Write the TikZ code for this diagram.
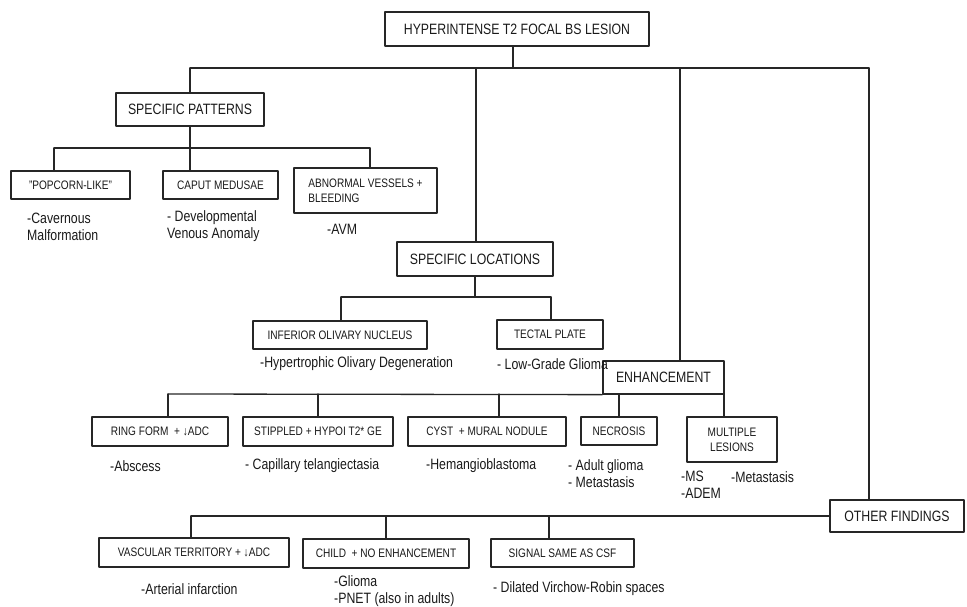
\documentclass[tikz,border=0pt]{standalone}
\usepackage{fontspec}
\setmainfont[FakeStretch=0.82]{Liberation Sans}
\begin{document}
\begin{tikzpicture}[x=1pt,y=-1pt,line join=round,line cap=round]
	\tikzset{box/.style={draw=black!85,line width=1.3pt,inner sep=0pt,text=black!90},
		sz/.style 2 args={minimum width=#1,minimum height=#2},
		bigbox/.style={box,font=\fontsize{15}{17}\selectfont},
		smallbox/.style={box,align=center,font=\fontsize{12.3}{15}\selectfont},
		note/.style={anchor=west,align=left,inner sep=0pt,text=black!90,font=\fontsize{15}{17}\selectfont},
		link/.style={draw=black!85,line width=1.3pt}}
	\useasboundingbox (0,0) rectangle (967,607);
	% boxes
	\node[bigbox,sz={264}{34}] (root) at (517,29) {HYPERINTENSE T2 FOCAL BS LESION};
	\node[bigbox,sz={148}{33}] (pat) at (190,109.5) {SPECIFIC PATTERNS};
	\node[smallbox,sz={119}{28}] (pop) at (70.5,185) {"POPCORN-LIKE"};
	\node[smallbox,sz={115}{28}] (cap) at (220.5,185) {CAPUT MEDUSAE};
	\node[smallbox,align=left,sz={143}{45}] (abn) at (365.5,190.5) {ABNORMAL VESSELS +\\BLEEDING};
	\node[bigbox,sz={156}{34}] (loc) at (475,259) {SPECIFIC LOCATIONS};
	\node[smallbox,sz={174}{28}] (ion) at (340,335) {INFERIOR OLIVARY NUCLEUS};
	\node[smallbox,sz={106}{29}] (tec) at (550,334.5) {TECTAL PLATE};
	\node[bigbox,sz={121}{33}] (enh) at (663.5,377.5) {ENHANCEMENT};
	\node[smallbox,sz={136}{29}] (ring) at (160,431.5) {RING FORM\ \ + ↓ADC};
	\node[smallbox,sz={150}{29}] (stp) at (318,431.5) {STIPPLED + HYPOI T2* GE};
	\node[smallbox,sz={158}{29}] (cyst) at (487,431.5) {CYST\ \ + MURAL NODULE};
	\node[smallbox,sz={76}{28}] (nec) at (619,431) {NECROSIS};
	\node[smallbox,sz={90}{45}] (mult) at (732,439.5) {MULTIPLE\\LESIONS};
	\node[bigbox,sz={134}{32}] (oth) at (897,516) {OTHER FINDINGS};
	\node[smallbox,sz={190}{29}] (vasc) at (194,552.5) {VASCULAR TERRITORY + ↓ADC};
	\node[smallbox,sz={166}{29}] (child) at (386,553.5) {CHILD\ \ + NO ENHANCEMENT};
	\node[smallbox,sz={143}{28}] (sig) at (562.5,553) {SIGNAL SAME AS CSF};
	% findings
	\node[note] (n-pop) at (27,226.5) {-Cavernous\\Malformation};
	\node[note] (n-cap) at (167,226.5) {- Developmental\\Venous Anomaly};
	\node[note] (n-abn) at (327,229) {-AVM};
	\node[note] (n-ion) at (260,364) {-Hypertrophic Olivary Degeneration};
	\node[note] (n-tec) at (497,364) {- Low-Grade Glioma};
	\node[note] (n-ring) at (110,466) {-Abscess};
	\node[note] (n-stp) at (245,466) {- Capillary telangiectasia};
	\node[note] (n-cyst) at (426,466) {-Hemangioblastoma};
	\node[note] (n-nec) at (568,473.5) {- Adult glioma\\- Metastasis};
	\node[note] (n-mult) at (681,485) {-MS\\-ADEM};
	\node[note] (n-met) at (731,477) {-Metastasis};
	\node[note] (n-vasc) at (141,589) {-Arterial infarction};
	\node[note] (n-child) at (334,591.5) {-Glioma\\-PNET (also in adults)};
	\node[note] (n-sig) at (493,589) {- Dilated Virchow-Robin spaces};
	% junctions on the buses
	\coordinate (t0) at (513,68);
	\coordinate (t1) at (190,68);
	\coordinate (t2) at (476,68);
	\coordinate (t3) at (680,68);
	\coordinate (t4) at (869,68);
	\coordinate (p1) at (54,148);
	\coordinate (p2) at (190,148);
	\coordinate (p3) at (370,148);
	\coordinate (l1) at (341,297);
	\coordinate (l2) at (551,297);
	\coordinate (e1) at (168,394);
	\coordinate (e2) at (318,394);
	\coordinate (e3) at (499,394);
	\coordinate (e4) at (619,394);
	\coordinate (e5) at (724,394);
	\coordinate (o1) at (191,516);
	\coordinate (o2) at (386,516);
	\coordinate (o3) at (549,516);
	% connectors
	\draw[link] (root.south -| t0) -- (t0);
	\draw[link] (t1) -- (t4);
	\foreach \j/\n in {t1/pat,t2/loc,t3/enh,t4/oth}
	\draw[link] (\j) -- (\j |- \n.north);
	\draw[link] (pat.south) -- (pat.south |- p2);
	\draw[link] (p1) -- (p3);
	\foreach \j/\n in {p1/pop,p2/cap,p3/abn}
	\draw[link] (\j) -- (\j |- \n.north);
	\draw[link] (loc.south) -- (loc.south |- l1);
	\draw[link] (l1) -- (l2);
	\foreach \j/\n in {l1/ion,l2/tec}
	\draw[link] (\j) -- (\j |- \n.north);
	\draw[link] (e1) -- (enh.south west);
	\foreach \j/\n in {e1/ring,e2/stp,e3/cyst,e4/nec,e5/mult}
	\draw[link] (\j) -- (\j |- \n.north);
	\draw[link] (oth.west) -- (o1);
	\foreach \j/\n in {o1/vasc,o2/child,o3/sig}
	\draw[link] (\j) -- (\j |- \n.north);
\end{tikzpicture}
\end{document}
